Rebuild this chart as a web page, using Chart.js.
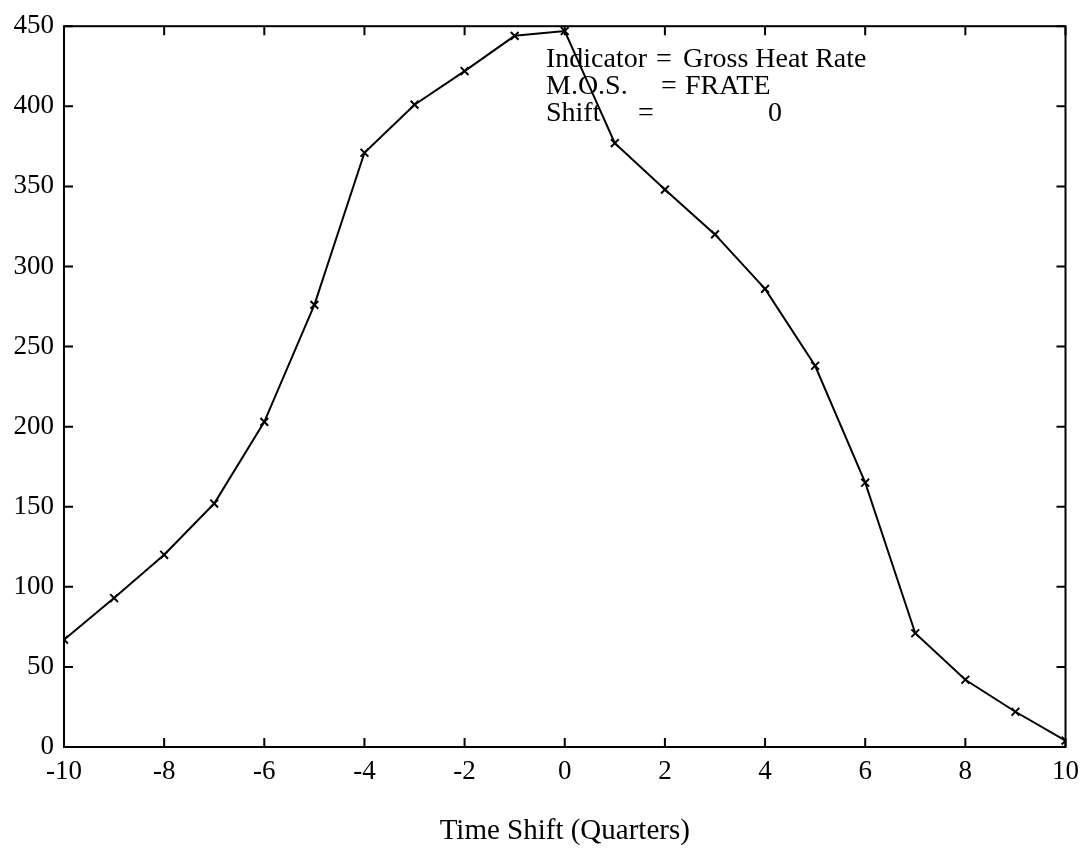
<!DOCTYPE html>
<html>
<head>
<meta charset="utf-8">
<script src="https://cdn.jsdelivr.net/npm/chart.js@4/dist/chart.umd.min.js"></script>
<style>
  html, body { margin: 0; padding: 0; background: #fff; }
  #wrap { width: 1088px; height: 857px; }
</style>
</head>
<body>
<div id="wrap"><canvas id="shiftChart"></canvas></div>
<script>
// time shift in quarters and the matching indicator score
const shifts = [-10, -9, -8, -7, -6, -5, -4, -3, -2, -1, 0, 1, 2, 3, 4, 5, 6, 7, 8, 9, 10];
const scores = [67, 93, 120, 152, 203, 276, 371, 401, 422, 444, 447, 377, 348, 320, 286, 238, 165, 71, 42, 22, 4];
const xTicks = [-10, -8, -6, -4, -2, 0, 2, 4, 6, 8, 10];
const yTicks = [0, 50, 100, 150, 200, 250, 300, 350, 400, 450];
const noteLines = [
  ["Indicator", "=", "Gross Heat Rate"],
  ["M.O.S.", "=", "FRATE"],
  ["Shift", "=", "0"]
];

const serif = "'Liberation Serif', 'DejaVu Serif', serif";

// box round the plot with inward tick marks on all four sides
const frame = {
  id: "frame",
  afterDatasetsDraw(chart) {
    const { ctx, chartArea: a, scales } = chart;
    const len = 9;
    ctx.save();
    ctx.strokeStyle = "#000";
    ctx.lineWidth = 2;
    ctx.strokeRect(a.left, a.top, a.right - a.left, a.bottom - a.top);
    ctx.beginPath();
    xTicks.forEach(v => {
      const px = scales.x.getPixelForValue(v);
      ctx.moveTo(px, a.bottom); ctx.lineTo(px, a.bottom - len);
      ctx.moveTo(px, a.top); ctx.lineTo(px, a.top + len);
    });
    yTicks.forEach(v => {
      const py = scales.y.getPixelForValue(v);
      ctx.moveTo(a.left, py); ctx.lineTo(a.left + len, py);
      ctx.moveTo(a.right, py); ctx.lineTo(a.right - len, py);
    });
    ctx.stroke();

    // text block in the upper part of the plot
    ctx.fillStyle = "#000";
    ctx.font = "28px " + serif;
    ctx.textBaseline = "alphabetic";
    const x0 = a.left + 482;
    const cols = [
      [0, 110, 137],
      [0, 115, 139],
      [0, 92, 222]
    ];
    noteLines.forEach((parts, i) => {
      const y = a.top + 41 + i * 27;
      parts.forEach((t, j) => ctx.fillText(t, x0 + cols[i][j], y));
    });
    ctx.restore();
  }
};

new Chart(document.getElementById("shiftChart"), {
  type: "scatter",
  data: {
    datasets: [{
      data: shifts.map((s, i) => ({ x: s, y: scores[i] })),
      showLine: true,
      borderColor: "#000",
      borderWidth: 2,
      pointStyle: "crossRot",
      pointRadius: 5.5,
      pointBorderWidth: 2,
      pointBorderColor: "#000",
      tension: 0
    }]
  },
  options: {
    responsive: true,
    maintainAspectRatio: false,
    animation: false,
    layout: { padding: { top: 24, right: 21, left: 0, bottom: 0 } },
    plugins: {
      legend: { display: false },
      tooltip: { enabled: false }
    },
    scales: {
      x: {
        type: "linear",
        min: -10,
        max: 10,
        afterFit: s => { s.height = 110; },
        afterBuildTicks: s => { s.ticks = xTicks.map(v => ({ value: v })); },
        grid: { display: false, drawTicks: false },
        border: { display: false },
        ticks: {
          color: "#000",
          padding: 9,
          maxRotation: 0,
          font: { family: serif, size: 27 }
        },
        title: {
          display: true,
          text: "Time Shift (Quarters)",
          color: "#000",
          padding: { top: 0, bottom: 8 },
          font: { family: serif, size: 29 }
        }
      },
      y: {
        min: 0,
        max: 450,
        afterFit: s => { s.width = 64; },
        afterBuildTicks: s => { s.ticks = yTicks.map(v => ({ value: v })); },
        grid: { display: false, drawTicks: false },
        border: { display: false },
        ticks: {
          color: "#000",
          padding: 10,
          font: { family: serif, size: 27 }
        }
      }
    }
  },
  plugins: [frame]
});
</script>
</body>
</html>
